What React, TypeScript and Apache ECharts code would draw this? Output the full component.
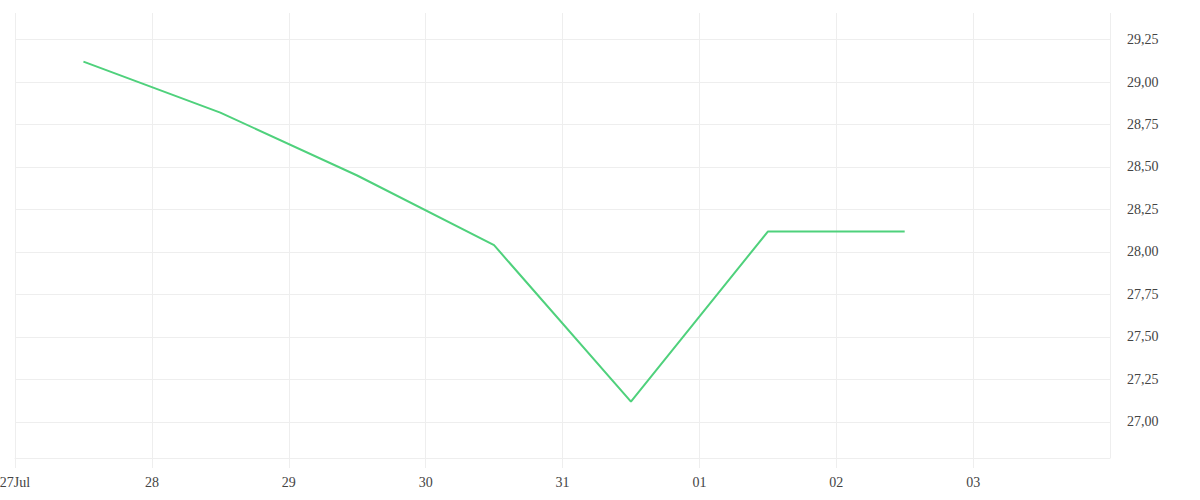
import React, { useEffect, useRef } from "react";
import * as echarts from "echarts";

const DAY = 86400000;
const startDay = Date.UTC(2024, 6, 27);
const endDay = Date.UTC(2024, 7, 4);

const pointTimes = [
  "2024-07-27T12:00:00Z",
  "2024-07-28T12:00:00Z",
  "2024-07-29T12:00:00Z",
  "2024-07-30T12:00:00Z",
  "2024-07-31T12:00:00Z",
  "2024-08-01T12:00:00Z",
  "2024-08-02T12:00:00Z",
];
const values = [29.12, 28.82, 28.45, 28.04, 27.12, 28.12, 28.12];
const yTicks = [27.0, 27.25, 27.5, 27.75, 28.0, 28.25, 28.5, 28.75, 29.0, 29.25];
const yMin = 26.788;
const yMax = 29.406;

const FONT = "Liberation Serif";

export default function App() {
  const ref = useRef<HTMLDivElement>(null);
  useEffect(() => {
    if (!ref.current) return;
    const chart = echarts.init(ref.current, null, { renderer: "svg" });
    chart.setOption({
      animation: false,
      grid: { left: 15, right: 90, top: 13, bottom: 42, outerBoundsMode: "none", containLabel: false },
      xAxis: {
        type: "value",
        min: startDay,
        max: endDay,
        interval: DAY,
        axisLine: { show: true, lineStyle: { color: "#eeeeee" } },
        axisTick: { show: true, length: 10, lineStyle: { color: "#eeeeee" } },
        splitLine: { show: true, lineStyle: { color: "#eeeeee" } },
        axisLabel: {
          showMaxLabel: false,
          margin: 17,
          color: "#444",
          fontFamily: FONT,
          fontSize: 14,
          formatter: (v: number) => {
            const d = new Date(v);
            const dd = String(d.getUTCDate()).padStart(2, "0");
            return v === startDay ? dd + "Jul" : dd;
          },
        },
      },
      yAxis: {
        type: "value",
        position: "right",
        min: yMin,
        max: yMax,
        axisLine: { show: false },
        axisTick: { show: false, customValues: yTicks },
        splitLine: { show: true, lineStyle: { color: "#eeeeee" } },
        axisLabel: {
          customValues: yTicks,
          margin: 17,
          color: "#444",
          fontFamily: FONT,
          fontSize: 14,
          formatter: (v: number) => v.toFixed(2).replace(".", ","),
        },
      },
      series: [
        {
          type: "line",
          data: pointTimes.map((t, i) => [Date.parse(t), values[i]]),
          showSymbol: false,
          symbol: "none",
          lineStyle: { color: "#4fd17c", width: 2 },
        },
      ],
    });
    return () => chart.dispose();
  }, []);
  return <div ref={ref} style={{ width: 1200, height: 500, position: "absolute", left: 0, top: 0 }} />;
}
